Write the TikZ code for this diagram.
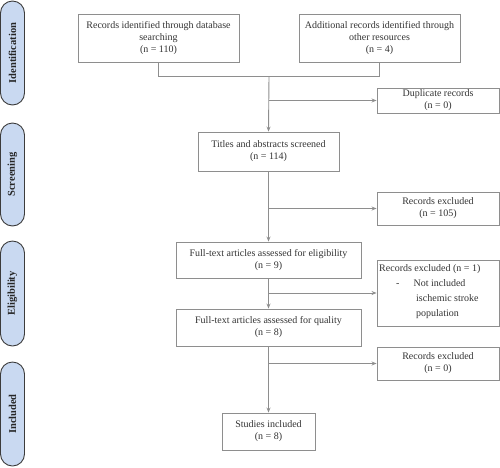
\documentclass[tikz,border=0pt]{standalone}
\usepackage{fontspec}
\setmainfont{Liberation Serif}
\usetikzlibrary{arrows.meta}
\definecolor{boxline}{HTML}{8E8E8E}
\definecolor{txt}{HTML}{333333}
\definecolor{pillfill}{HTML}{C9D9F1}
\definecolor{pillline}{HTML}{3C3C3C}
\begin{document}
\begin{tikzpicture}[x=1pt,y=-1pt,
  box/.style={draw=boxline, line width=0.9pt, inner sep=0pt, align=center, text=txt,
    font=\fontsize{10}{12}\selectfont},
  pill/.style={draw=pillline, line width=0.9pt, fill=pillfill, rounded corners=12pt,
    minimum width=24pt, inner sep=0pt},
  pilltext/.style={rotate=90, font=\fontsize{10.5}{11}\selectfont\bfseries, text=black!85},
  conn/.style={draw=boxline, line width=0.9pt},
  arr/.style={conn, -{Stealth[length=5pt,width=4pt]}}]
\useasboundingbox (0,0) rectangle (500,467);
% phase pills
\node[pill, minimum height=104pt] (pid) at (12.5,53) {};
\node[pilltext] (tid) at (pid.center) {Identification};
\node[pill, minimum height=103pt] (pscr) at (12.5,174.5) {};
\node[pilltext] (tscr) at (pscr.center) {Screening};
\node[pill, minimum height=105pt] (pel) at (12.5,293.5) {};
\node[pilltext] (tel) at (pel.center) {Eligibility};
\node[pill, minimum height=104pt] (pin) at (12.5,414) {};
\node[pilltext] (tin) at (pin.center) {Included};
% boxes
\node[box, minimum width=161pt, minimum height=48pt] (r1) at (158.5,38)
  {Records identified through database\\searching\\(n = 110)};
\node[box, minimum width=161pt, minimum height=48pt] (r2) at (379.5,38)
  {Additional records identified through\\other resources\\(n = 4)};
\node[box, minimum width=122pt, minimum height=25pt] (dup) at (438,100.5)
  {Duplicate records\\(n = 0)};
\node[box, minimum width=141pt, minimum height=39pt] (tit) at (268.5,151.5)
  {Titles and abstracts screened\\(n = 114)};
\node[box, minimum width=122pt, minimum height=33pt] (ex1) at (438,208.5)
  {Records excluded\\(n = 105)};
\node[box, minimum width=185pt, minimum height=36pt] (elig) at (268.5,260)
  {Full-text articles assessed for eligibility\\(n = 9)};
\node[box, minimum width=122pt, minimum height=66pt] (ex2) at (438,293) {};
\node[anchor=north west, inner sep=0pt, text=txt, font=\fontsize{10}{15}\selectfont, align=left]
  (ex2t) at (379,264) {Records excluded (n = 1)\\\hspace*{17pt}-\hspace*{14pt}Not included\\\hspace*{37pt}ischemic stroke\\\hspace*{37pt}population};
\node[box, minimum width=185pt, minimum height=37pt] (qual) at (268.5,327.5)
  {Full-text articles assessed for quality\\(n = 8)};
\node[box, minimum width=122pt, minimum height=33pt] (ex3) at (438,363.5)
  {Records excluded\\(n = 0)};
\node[box, minimum width=93pt, minimum height=37pt] (inc) at (268.5,431.5)
  {Studies included\\(n = 8)};
% connectors
\coordinate (j0) at (269,76);
\draw[conn] (r1.south) -- (r1.south |- j0) -| (r2.south);
\draw[arr] (j0) -- (tit.north);
\draw[arr] (tit.north |- dup.west) -- (dup.west);
\draw[arr] (tit.south) -- (elig.north);
\draw[arr] (tit.south |- ex1.west) -- (ex1.west);
\draw[arr] (elig.south) -- (qual.north);
\draw[arr] (elig.south |- ex2.west) -- (ex2.west);
\draw[arr] (qual.south) -- (inc.north);
\draw[arr] (qual.south |- ex3.west) -- (ex3.west);
\end{tikzpicture}
\end{document}
